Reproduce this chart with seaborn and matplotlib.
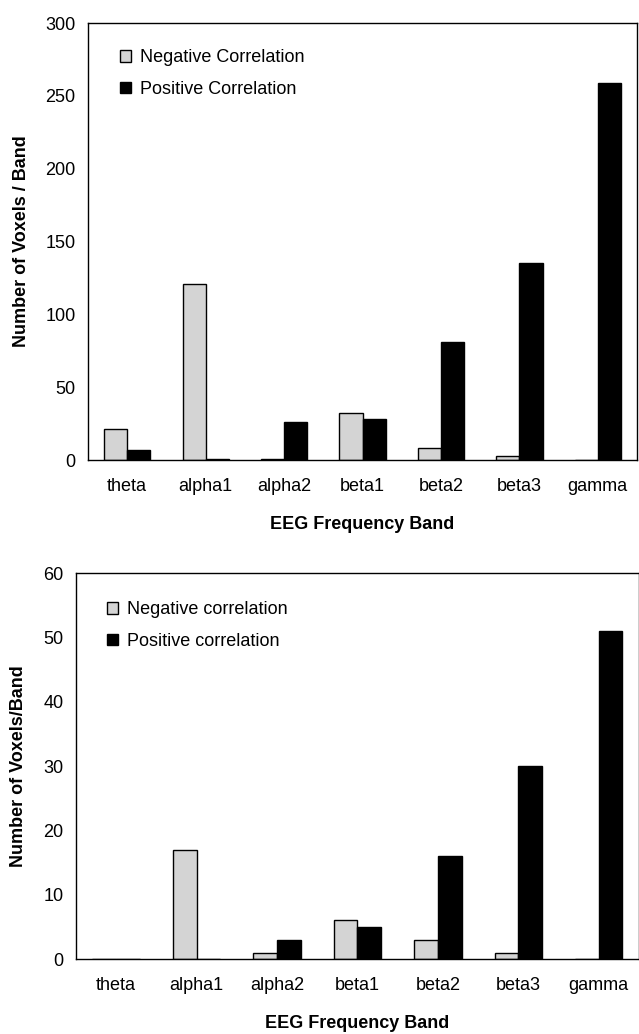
import numpy as np
import pandas as pd
import matplotlib
matplotlib.use("Agg")
import matplotlib.pyplot as plt
import seaborn as sns

bands = ["theta", "alpha1", "alpha2", "beta1", "beta2", "beta3", "gamma"]

# upper panel
neg_top = [21, 121, 1, 32, 8, 3, 0]
pos_top = [7, 1, 26, 28, 81, 135, 259]

# lower panel
neg_bottom = [0, 17, 1, 6, 3, 1, 0]
pos_bottom = [0, 0, 3, 5, 16, 30, 51]


def make_df(neg, pos, neg_label, pos_label):
    return pd.DataFrame(
        {
            "band": bands * 2,
            "count": neg + pos,
            "corr": [neg_label] * len(bands) + [pos_label] * len(bands),
        }
    )


def draw_panel(ax, df, ymax, ystep, ylabel, legend_anchor, ylabelpad):
    labels = list(df["corr"].unique())
    sns.barplot(
        data=df,
        x="band",
        y="count",
        hue="corr",
        palette={labels[0]: "#d4d4d4", labels[1]: "black"},
        edgecolor="black",
        linewidth=1.0,
        width=0.59,
        errorbar=None,
        ax=ax,
    )
    ax.set_xlim(-0.5, len(bands) - 0.5)
    ax.set_ylim(0, ymax)
    ax.set_yticks(np.arange(0, ymax + 1, ystep))
    ax.set_xticks(np.arange(-0.5, len(bands), 1), minor=True)
    ax.tick_params(axis="x", which="major", length=0, pad=13, labelsize=13)
    ax.tick_params(axis="x", which="minor", length=5, width=0.8)
    ax.tick_params(axis="y", length=4, width=0.8, labelsize=13, pad=5)
    ax.set_xlabel("EEG Frequency Band", fontsize=13, fontweight="bold", labelpad=15)
    ax.set_ylabel(ylabel, fontsize=13, fontweight="bold", labelpad=ylabelpad)
    for s in ax.spines.values():
        s.set_visible(True)
        s.set_color("black")
        s.set_linewidth(1.0)
    ax.legend(
        loc="upper left",
        bbox_to_anchor=legend_anchor,
        borderaxespad=0,
        borderpad=0,
        frameon=False,
        fontsize=13,
        handlelength=0.6,
        handleheight=0.6,
        handletextpad=0.5,
        labelspacing=0.8,
    )


sns.set_style("white")
plt.rcParams["font.family"] = ["Liberation Sans", "DejaVu Sans"]
for key in ["text.color", "axes.labelcolor", "xtick.color", "ytick.color"]:
    plt.rcParams[key] = "black"

fig = plt.figure(figsize=(6.39, 10.34), dpi=100)
ax1 = fig.add_axes([0.1377, 0.5551, 0.8592, 0.4226])
ax2 = fig.add_axes([0.1189, 0.0725, 0.8810, 0.3733])

draw_panel(
    ax1,
    make_df(neg_top, pos_top, "Negative Correlation", "Positive Correlation"),
    300,
    50,
    "Number of Voxels / Band",
    (0.058, 0.94),
    11,
)
draw_panel(
    ax2,
    make_df(neg_bottom, pos_bottom, "Negative correlation", "Positive correlation"),
    60,
    10,
    "Number of Voxels/Band",
    (0.055, 0.927),
    12,
)

fig.savefig("out.png", dpi=100)
